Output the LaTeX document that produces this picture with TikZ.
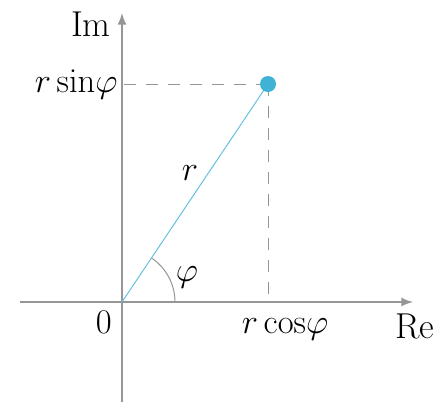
\documentclass[tikz,border=0pt]{standalone}
\usepackage{amsmath}
\usepackage{tikz}
\usetikzlibrary{arrows, positioning}
\definecolor{axisgray}{RGB}{150, 150, 150}
\definecolor{dotblue}{RGB}{64, 178, 214}

\begin{document}
\begin{tikzpicture}[x=0.5pt, y=-0.5pt, font=\fontsize{18}{22}\selectfont]
        \tikzstyle{axis} = [draw=axisgray, line width=1pt, -latex]
        \tikzstyle{guide} = [draw=axisgray, line width=0.5pt, dash pattern=on 6pt off 5pt]
        \tikzstyle{lbl} = [inner sep=0pt]

        \useasboundingbox (0,0) rectangle (439,402);

        \coordinate (o) at (122,302);
        \coordinate (xl) at (20,302);
        \coordinate (xr) at (413,302);
        \coordinate (yb) at (122,402);
        \coordinate (yt) at (122,13);
        \coordinate (p) at (268,84);
        \coordinate (px) at (268,302);
        \coordinate (py) at (122,84);

        \draw [axis] (xl) -- (xr);
        \draw [axis] (yb) -- (yt);
        \draw [guide] (p) -- (py);
        \draw [guide] (p) -- (px);
        \draw [dotblue!80, line width=0.5pt] (o) -- (p);
        \draw [axisgray, line width=0.5pt] (175,302) arc [start angle=0, end angle=56.2, radius=26.5pt];
        \node (pt) [circle, fill=dotblue, minimum size=8pt, inner sep=0pt] at (p) {};

        \node (im) [lbl, anchor=base east] at (111,36) {Im};
        \node (re) [lbl, anchor=base west] at (395,338) {Re};
        \node (zero) [lbl, anchor=base east] at (112,333) {$0$};
        \node (rsin) [lbl, anchor=base east] at (118,92) {$r\sin\!\varphi$};
        \node (rcos) [lbl, anchor=base] at (285,333) {$r\cos\!\varphi$};
        \node (rlab) [lbl, anchor=base] at (190,180) {$r$};
        \node (phi) [lbl, anchor=base] at (187,281) {$\varphi$};
    \end{tikzpicture}
\end{document}
